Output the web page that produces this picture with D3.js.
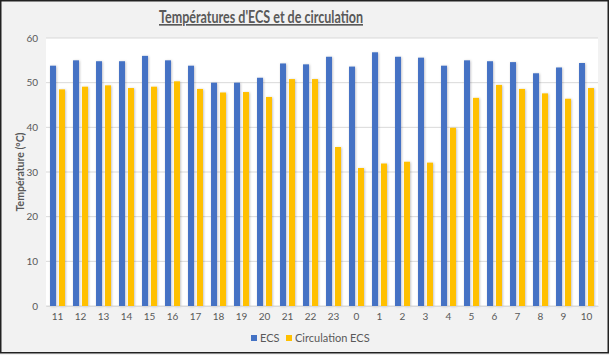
<!DOCTYPE html>
<html><head><meta charset="utf-8">
<script src="https://cdn.jsdelivr.net/npm/d3@7"></script>
<style>body{margin:0;background:#fff}svg{display:block}</style>
</head><body><div id="chart"></div>
<script>
const hours = ["11","12","13","14","15","16","17","18","19","20","21","22","23","0","1","2","3","4","5","6","7","8","9","10"];
const ecs = [53.8,55.0,54.8,54.8,56.0,55.0,53.8,50.0,50.0,51.1,54.3,54.1,55.8,53.6,56.8,55.8,55.6,53.8,55.0,54.8,54.6,52.1,53.4,54.4];
const circulation = [48.5,49.1,49.4,48.8,49.1,50.3,48.6,47.8,47.9,46.8,50.8,50.8,35.6,30.9,31.9,32.3,32.1,39.9,46.6,49.5,48.6,47.6,46.4,48.8];
const yTicks = [0,10,20,30,40,50,60];
const seriesNames = ["ECS","Circulation ECS"];
const colors = ["#4472C4","#FFC000"];

const W = 609, H = 355;
const svg = d3.select("#chart").append("svg").attr("width", W).attr("height", H);
const font = "Lato, 'Open Sans', sans-serif";

svg.append("rect").attr("x",0).attr("y",0).attr("width",W).attr("height",H).attr("fill","#f2f2f2");

const m = {left:46, right:598, top:38, bottom:306};
svg.append("rect").attr("x",m.left).attr("y",m.top).attr("width",m.right-m.left).attr("height",m.bottom-m.top).attr("fill","#fff");

const x = d3.scaleBand().domain(hours).range([m.left, m.right]).padding(0);
const y = d3.scaleLinear().domain([0,60]).range([m.bottom, m.top]);

// grid
svg.append("g").selectAll("line").data(yTicks).join("line")
  .attr("x1", m.left).attr("x2", m.right)
  .attr("y1", d=>y(d)).attr("y2", d=>y(d))
  .attr("stroke", "#d9d9d9").attr("stroke-width", 1);

// shadow filter
const defs = svg.append("defs");
const f = defs.append("filter").attr("id","sh").attr("x","-50%").attr("y","-10%").attr("width","200%").attr("height","120%");
f.append("feDropShadow").attr("dx",0.8).attr("dy",0.5).attr("stdDeviation",0.8).attr("flood-color","#000").attr("flood-opacity",0.25);

const bw = x.bandwidth();
const barW = bw*0.26, gap = bw*0.13;
const offsets = [bw/2 - gap/2 - barW, bw/2 + gap/2];
[ecs, circulation].forEach((vals, si) => {
  svg.append("g").attr("filter","url(#sh)").selectAll("rect").data(vals).join("rect")
    .attr("x", (d,i)=> x(hours[i]) + offsets[si])
    .attr("y", d=>y(d))
    .attr("width", barW)
    .attr("height", d=> y(0)-y(d))
    .attr("fill", colors[si]);
});

// axes
const yAxis = d3.axisLeft(y).tickValues(yTicks).tickSize(0).tickPadding(8);
const gy = svg.append("g").attr("transform",`translate(${m.left},0)`).call(yAxis);
gy.select(".domain").remove();
gy.selectAll("text").attr("font-family",font).attr("font-size",10).attr("fill","#595959");

const xAxis = d3.axisBottom(x).tickSize(0).tickPadding(7);
const gx = svg.append("g").attr("transform",`translate(0,${m.bottom})`).call(xAxis);
gx.select(".domain").attr("stroke","#d9d9d9");
gx.selectAll("text").attr("font-family",font).attr("font-size",10).attr("fill","#595959");

// title
svg.append("text").attr("x", 261).attr("y", 23).attr("text-anchor","middle")
  .attr("font-family",font).attr("font-size",16.5).attr("font-weight","bold").attr("fill","#595959")
  .attr("text-decoration","underline")
  .attr("textLength",204).attr("lengthAdjust","spacingAndGlyphs")
  .text("Températures d'ECS et de circulation");

// y title
svg.append("text").attr("transform",`translate(24,${(m.top+m.bottom)/2}) rotate(-90)`)
  .attr("text-anchor","middle").attr("font-family",font).attr("font-size",10.5).attr("font-weight","bold").attr("fill","#595959")
  .text("Température (°C)");

// legend
const lg = svg.append("g").attr("transform","translate(251,339)");
const lx = [0, 35];
seriesNames.forEach((n,i)=>{
  lg.append("rect").attr("x", lx[i]).attr("y",-4).attr("width",6).attr("height",6).attr("fill",colors[i]);
  lg.append("text").attr("x", lx[i]+9).attr("y",3).attr("font-family",font).attr("font-size",11).attr("fill","#595959").text(n);
});

// border
svg.append("rect").attr("x",0.75).attr("y",0.75).attr("width",W-1.5).attr("height",H-3).attr("fill","none").attr("stroke","#222").attr("stroke-width",1.5);
</script>
</body></html>
